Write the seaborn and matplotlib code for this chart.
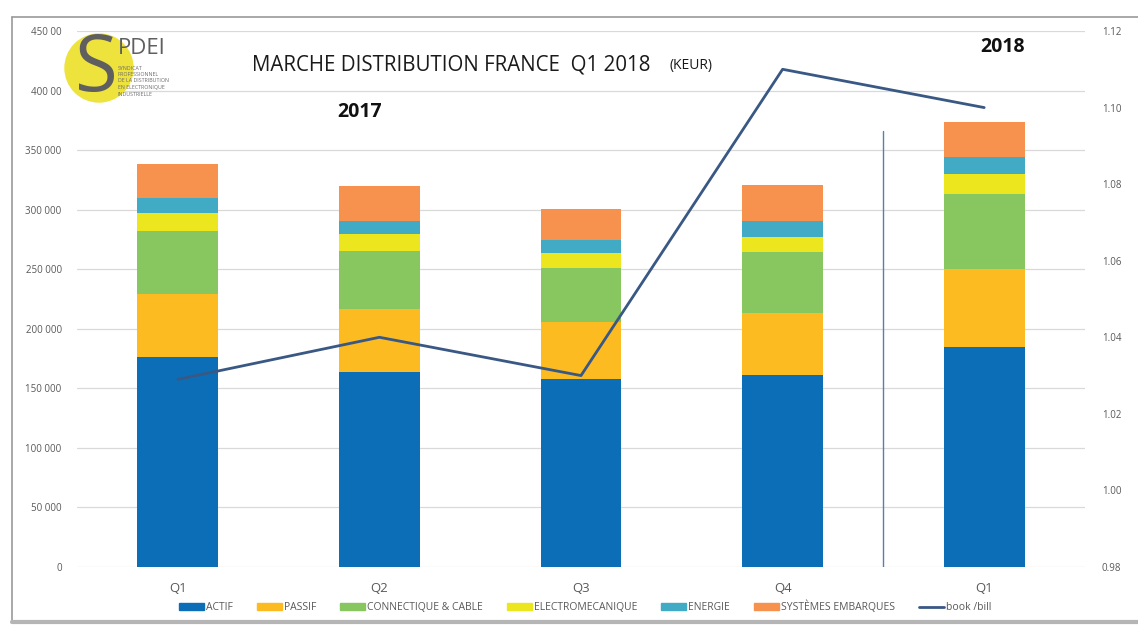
import numpy as np
import pandas as pd
import seaborn as sns
import matplotlib.pyplot as plt
from matplotlib.patches import Ellipse, Patch
from matplotlib.lines import Line2D

# data (KEUR)
periods = ["Q1 2017", "Q2 2017", "Q3 2017", "Q4 2017", "Q1 2018"]
quarter_labels = ["Q1", "Q2", "Q3", "Q4", "Q1"]
actif = [176700, 163300, 158200, 161600, 185100]
passif = [52400, 53300, 47600, 51600, 65300]
connectique = [53200, 48700, 45400, 51300, 62800]
electromeca = [14900, 14300, 12400, 12900, 17100]
energie = [12600, 11200, 11200, 13400, 13700]
systemes = [28800, 29400, 26000, 29700, 29400]
book_bill = [1.029, 1.040, 1.030, 1.110, 1.100]

segments = ["ACTIF", "PASSIF", "CONNECTIQUE & CABLE", "ELECTROMECANIQUE",
            "ENERGIE", "SYSTÈMES EMBARQUES"]
colors = ["#0D6EB8", "#FDBB22", "#88C660", "#EBE61E", "#41AAC4", "#F6924E"]
line_color = "#395884"

left_ticks = [0, 50000, 100000, 150000, 200000, 250000, 300000, 350000, 400000, 450000]
left_tick_labels = ["0", "50 000", "100 000", "150 000", "200 000", "250 000",
                    "300 000", "350 000", "400 00", "450 00"]
right_ticks = [0.98, 1.00, 1.02, 1.04, 1.06, 1.08, 1.10, 1.12]

sns.set_theme(style="white")
plt.rcParams['font.family'] = ['Open Sans', 'DejaVu Sans']

df = pd.DataFrame({"period": periods, "ACTIF": actif, "PASSIF": passif,
                   "CONNECTIQUE & CABLE": connectique, "ELECTROMECANIQUE": electromeca,
                   "ENERGIE": energie, "SYSTÈMES EMBARQUES": systemes})
cum = df[segments].cumsum(axis=1)
cum["period"] = df["period"]

fig = plt.figure(figsize=(11.38, 6.3), dpi=100)
ax = fig.add_axes([77 / 1138, 1 - 567 / 630, 1008 / 1138, 536 / 630])

# stacked bars: draw cumulative totals from the top down
for seg, col in reversed(list(zip(segments, colors))):
    sns.barplot(data=cum, x="period", y=seg, order=periods, color=col,
                width=0.4, saturation=1, linewidth=0, ax=ax)

ax.set_ylim(0, 450000)
ax.set_yticks(left_ticks)
ax.set_yticklabels(left_tick_labels)
ax.yaxis.grid(True, color="#D9D9D9", lw=0.9)
ax.set_axisbelow(True)
ax.set_xticks(range(len(periods)))
ax.set_xticklabels(quarter_labels)
ax.set_xlabel("")
ax.set_ylabel("")
ax.tick_params(axis="y", length=0, pad=11, labelsize=7, labelcolor="#595959")
ax.tick_params(axis="x", length=0, pad=11, labelsize=9.5, labelcolor="#595959")
for s in ax.spines.values():
    s.set_visible(False)

# separator between 2017 and 2018
ax.axvline(3.5, ymin=0, ymax=(567 - 131) / 536, color="#5B7DB1", lw=1)

ax2 = ax.twinx()
sns.lineplot(x=np.arange(len(periods)), y=book_bill, ax=ax2, color=line_color, lw=2)
ax2.set_ylim(0.98, 1.12)
ax2.set_yticks(right_ticks)
ax2.set_yticklabels([f"{t:.2f}" for t in right_ticks])
ax2.tick_params(axis="y", length=0, pad=12, labelsize=7, labelcolor="#595959")
ax2.grid(False)
for s in ax2.spines.values():
    s.set_visible(False)
ax.set_xlim(-0.5, 4.5)

# titles and year labels
fig.text(252 / 1138, 1 - 65 / 630, "MARCHE DISTRIBUTION FRANCE  Q1 2018", fontsize=14.8,
         color="#1a1a1a", ha="left", va="center")
fig.text(712 / 1138, 1 - 66 / 630, "(KEUR)", fontsize=10, color="#1a1a1a",
         ha="right", va="center")
fig.text(360 / 1138, 1 - 112 / 630, "2017", fontsize=14, fontweight="bold",
         color="#111111", ha="center", va="center")
fig.text(1003 / 1138, 1 - 47 / 630, "2018", fontsize=14, fontweight="bold",
         color="#111111", ha="center", va="center")

# logo
fig.add_artist(Ellipse((99 / 1138, 1 - 68 / 630), 68 / 1138, 68 / 630,
                       transform=fig.transFigure, color="#EEE23C", zorder=5))
fig.text(96 / 1138, 1 - 70 / 630, "S", fontsize=56, color="#5F5F5F",
         ha="center", va="center", zorder=6)
fig.text(118 / 1138, 1 - 49 / 630, "PDEI", fontsize=16, color="#5F5F5F",
         ha="left", va="center", zorder=6)
for i, txt in enumerate(["SYNDICAT", "PROFESSIONNEL", "DE LA DISTRIBUTION",
                         "EN ELECTRONIQUE", "INDUSTRIELLE"]):
    fig.text(118 / 1138, 1 - (68 + i * 6.5) / 630, txt, fontsize=3.8,
             color="#6a6a6a", ha="left", va="center", zorder=6)

# legend
handles = [Patch(color=c, label=s) for s, c in zip(segments, colors)]
handles.append(Line2D([], [], color=line_color, lw=2, label="book /bill"))
fig.legend(handles=handles, loc="center", bbox_to_anchor=(585 / 1138, 1 - 607 / 630),
           ncol=7, frameon=False, fontsize=7.5, handlelength=2.4, handleheight=0.55,
           handletextpad=0.2, columnspacing=2.3, labelcolor="#595959")

# outer frame
fig.add_artist(Line2D([12 / 1138, 12 / 1138], [1 - 622 / 630, 1 - 17 / 630],
                      transform=fig.transFigure, color="#9A9A9A", lw=1.2))
fig.add_artist(Line2D([12 / 1138, 1138 / 1138], [1 - 17 / 630, 1 - 17 / 630],
                      transform=fig.transFigure, color="#9A9A9A", lw=1.2))
fig.add_artist(Line2D([12 / 1138, 1138 / 1138], [1 - 622 / 630, 1 - 622 / 630],
                      transform=fig.transFigure, color="#B5B5B5", lw=3))

fig.savefig("out.png", dpi=100)
